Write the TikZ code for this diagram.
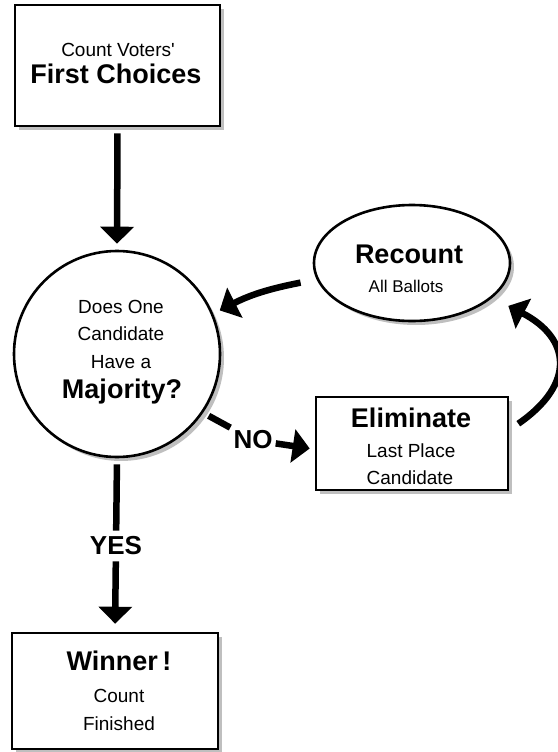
\documentclass[tikz,border=0pt]{standalone}
\usepackage{fontspec}
\setmainfont{Liberation Sans}
\usetikzlibrary{arrows.meta,shadows,calc,shapes.geometric}
\begin{document}
\begin{tikzpicture}[x=1pt,y=-1pt,
  shad/.style={drop shadow={shadow xshift=4pt,shadow yshift=-4pt,fill=gray!50,opacity=1}},
  boxshape/.style={draw,line width=2.6pt,fill=white,rectangle,inner sep=0pt,shad},
  circshape/.style={draw,line width=2.6pt,fill=white,circle,inner sep=0pt,shad},
  ellshape/.style={draw,line width=2.6pt,fill=white,ellipse,inner sep=0pt,shad},
  small/.style={font=\fontsize{19}{22}\selectfont,anchor=base,inner sep=0pt},
  big/.style={font=\fontsize{27}{30}\selectfont\bfseries,anchor=base,inner sep=0pt},
  lbl/.style={font=\fontsize{26}{28}\selectfont\bfseries},
  conn/.style={line width=6.5pt},
  arr/.style={line width=6.5pt,-{Triangle[width=33pt,length=17pt]}}]
\useasboundingbox (0,0) rectangle (557,752);

% shapes
\node[boxshape,minimum width=205pt,minimum height=121pt] (first) at (117.5,65.5) {};
\node[circshape,minimum size=206pt] (maj) at (117,354) {};
\node[ellshape,minimum width=196pt,minimum height=116pt] (rec) at (412,263) {};
\node[boxshape,minimum width=192pt,minimum height=93pt] (elim) at (412,443.5) {};
\node[boxshape,minimum width=206pt,minimum height=116pt] (win) at (115,691) {};

% texts
\node[small] (t1) at (118,57) {Count Voters\textquotesingle};
\node[big] (t2) at (116,83) {First Choices};

\node[small] (t3) at (121,313) {Does One};
\node[small] (t4) at (121,340) {Candidate};
\node[small] (t5) at (121,368) {Have a};
\node[big] (t6) at (122,398) {Majority?};

\node[big] (t7) at (409,263) {Recount};
\node[small,font=\fontsize{17}{20}\selectfont] (t8) at (406,292) {All Ballots};

\node[big] (t9) at (411,427) {Eliminate};
\node[small] (t10) at (411,457) {Last Place};
\node[small] (t11) at (410,484) {Candidate};

\node[big] (t12) at (119,670) {Winner\,!};
\node[small] (t13) at (119,702) {Count};
\node[small] (t14) at (119,730) {Finished};

% labels
\node[lbl,inner sep=3pt] (no) at (253,440) {NO};
\node[lbl,inner sep=6pt] (yes) at (116,546) {YES};

% connectors
\draw[arr,shorten <=6pt,shorten >=6pt] (first.south) -- (maj.north);
\draw[arr] ($(rec.center)!1.17!(rec.190)$) to[bend right=8] ($(maj.center)!1.07!(maj.23)$);
\draw[arr] ($(elim.north east)+(9,28)$) .. controls +(58,-40) and +(62,32) .. ($(rec.center)!1.21!(rec.-24)$);
\draw[conn] ($(maj.center)!1.06!(maj.-34)$) -- (no);
\draw[arr] (no) -- ($(elim.west)+(-5,5)$);
\draw[conn,shorten <=6pt] (maj.south) -- (yes);
\draw[arr,shorten >=8pt] (yes) -- (win.north);
\end{tikzpicture}
\end{document}
